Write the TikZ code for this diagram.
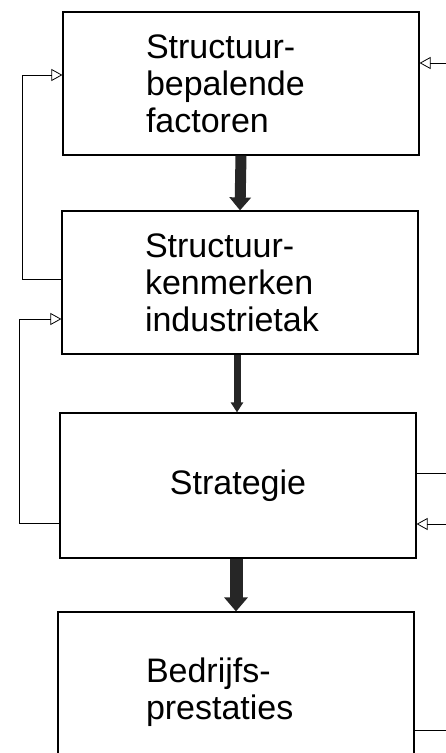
\documentclass[tikz,border=0pt]{standalone}
\usepackage{fontspec}
\setmainfont{Liberation Sans}
\usetikzlibrary{arrows.meta}

\tikzset{
  blok/.style={draw, line width=1.2pt, minimum width=356pt, minimum height=143pt,
    inner xsep=80pt, text width=190pt, align=left, font=\fontsize{34}{37}\selectfont},
  lijn/.style={line width=0.8pt},
  terug/.style={lijn, -{Triangle[open,length=11pt,width=12pt]}},
  dik/.style={black!85},
}

\begin{document}
\begin{tikzpicture}[x=1pt,y=-1pt]
\useasboundingbox (0,0) rectangle (446,753);
\clip (0,0) rectangle (446,753);

% de vier blokken
\node[blok] (factoren) at (241,83.5) {Structuur-\\bepalende\\factoren};
\node[blok] (kenmerken) at (240,282.5) {Structuur-\\kenmerken\\industrietak};
\node[blok, minimum height=145pt, align=center] (strategie) at (238,485.5) {Strategie};
\node[blok, minimum height=160pt, inner xsep=88pt, text width=180pt] (prestaties) at (236,692) {Bedrijfs-\\prestaties};

% dikke pijlen naar beneden
\draw[dik, line width=11pt, -{Triangle[length=13pt,width=21pt]}] (factoren.south) -- (kenmerken.north);
\draw[dik, line width=7pt, -{Triangle[length=10pt,width=12pt]}] (kenmerken.south -| 237,0) -- (strategie.north -| 237,0);
\draw[dik, line width=13pt, -{Triangle[length=14pt,width=23pt]}] (strategie.south -| 236,0) -- (prestaties.north);

% terugkoppelingen links
\draw[terug] (kenmerken.west |- 0,279) -- ++(-39,0) |- (factoren.west |- 0,75);
\draw[terug] (strategie.west |- 0,523) -- ++(-40,0) |- (kenmerken.west |- 0,319);

% lijnen naar rechts
\coordinate (rand1) at (450,63);
\coordinate (rand2) at (450,473);
\coordinate (rand3) at (450,524);
\coordinate (rand4) at (450,730);
\draw[terug] (rand1) -- (factoren.east |- rand1);
\draw[lijn] (strategie.east |- rand2) -- (rand2);
\draw[terug] (rand3) -- (strategie.east |- rand3);
\draw[lijn] (prestaties.east |- rand4) -- (rand4);
\end{tikzpicture}
\end{document}
